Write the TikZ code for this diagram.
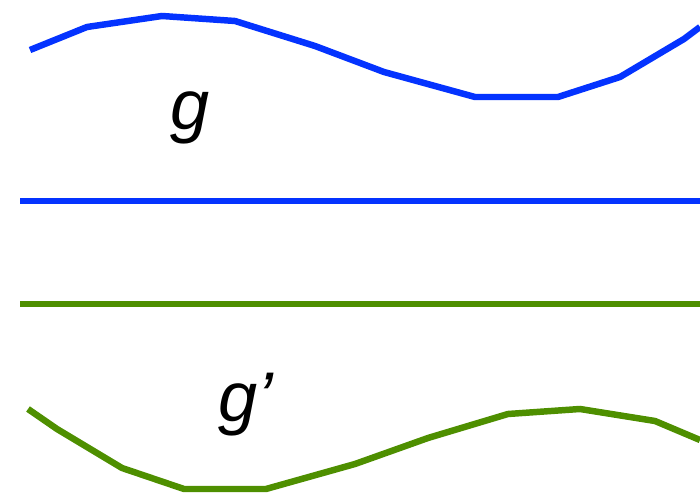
\documentclass[tikz,border=0pt]{standalone}
\usepackage{fontspec}
\setmainfont{Liberation Sans}
\usepackage{tikz}
\usepackage{xcolor}
\definecolor{gblue}{RGB}{4,51,255}
\definecolor{ggreen}{RGB}{78,143,0}

\begin{document}
\begin{tikzpicture}[
    x=0.025cm, y=-0.025cm,
    curveb/.style={draw=gblue, line width=4.6pt},
    curveg/.style={draw=ggreen, line width=4.6pt},
    lbl/.style={font=\fontsize{50}{60}\selectfont\itshape, inner sep=0pt}
]
\useasboundingbox (0,0) rectangle (700,497);

% Curves
\draw[curveb] (30,50) -- (87,27) -- (162,16) -- (235,21) -- (315,46) -- (384,72)
    -- (475,97) -- (558,97) -- (620,77) -- (684,39) -- (700,27);
\draw[curveg] (28,409) -- (57,429) -- (122,468) -- (184,489) -- (266,489) -- (355,464)
    -- (428,438) -- (508,414) -- (580,409) -- (655,421) -- (700,440);

% Straight lines
\coordinate (bl) at (20,201);
\coordinate (br) at (700,201);
\coordinate (gl) at (20,304);
\coordinate (gr) at (700,304);
\draw[curveb] (bl) -- (br);
\draw[curveg] (gl) -- (gr);

% Labels
\node[lbl] (g)  at (190,118) {g};
\node[lbl] (gp) at (246,405) {g’};

\end{tikzpicture}
\end{document}
